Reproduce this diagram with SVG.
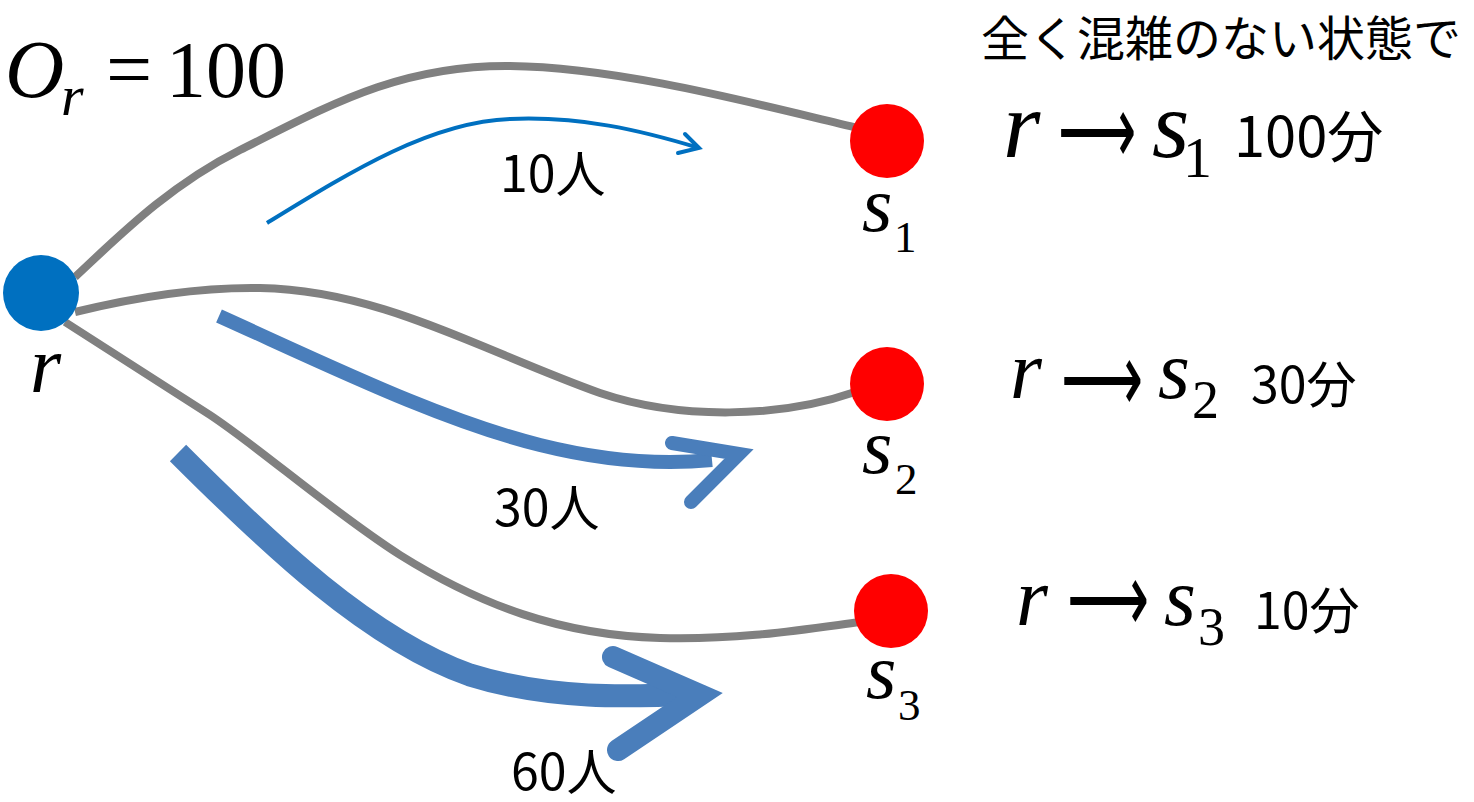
<svg xmlns="http://www.w3.org/2000/svg" width="1474" height="802" viewBox="0 0 1474 802">
  <style>
    .route { fill: none; stroke: #808080; stroke-width: 8; stroke-linecap: butt; }
    .flow { fill: none; stroke: #4A7EBB; stroke-linecap: butt; }
    .head { fill: none; stroke: #4A7EBB; stroke-linecap: round; stroke-linejoin: miter; stroke-miterlimit: 10; }
    .math { font-family: 'Liberation Serif', 'Times New Roman', 'DejaVu Serif', serif; font-style: italic; fill: #000; }
    .num { font-family: 'Liberation Serif', 'Times New Roman', 'DejaVu Serif', serif; fill: #000; }
    .arrow { font-family: 'Liberation Serif', 'Times New Roman', serif; fill: #000; }
    .jp { font-family: 'Noto Sans CJK JP', 'Noto Sans', sans-serif; fill: #000; }
  </style>

  <!-- routes from origin r to each destination -->
  <g id="connectors">
    <path class="route" d="M75,277 C120,235 170,185 240,150 C330,105 400,65 510,66 C620,67 760,105 858,128"/>
    <path class="route" d="M75,312 C140,296 200,287 260,288 C380,290 480,350 600,393 C680,420 780,418 855,392"/>
    <path class="route" d="M65,322 L210,415 C260,448 330,510 400,555 C480,605 560,635 660,638 C740,640 800,630 860,622"/>

    <!-- traffic volumes, stroke width by size of flow -->
    <g id="flow-s1">
      <path d="M267,223 C350,172 430,122 510,119 C580,116 640,130 699,148" fill="none" stroke="#0070C0" stroke-width="4"/>
      <polyline points="685,134 699,148 678,153" fill="none" stroke="#0070C0" stroke-width="4" stroke-linecap="round" stroke-linejoin="miter"/>
    </g>
    <g id="flow-s2">
      <path class="flow" stroke-width="14" d="M219,316 C330,366 440,420 540,445 C600,460 660,465 712,460"/>
      <polyline class="head" stroke-width="14" points="672,443 739,454 691,502"/>
    </g>
    <g id="flow-s3">
      <path class="flow" stroke-width="23" d="M178,453 C270,545 370,640 470,675 C550,700 630,697 695,694"/>
      <polyline class="head" stroke-width="22" points="613,657 700,695 618,750"/>
    </g>
  </g>

  <!-- origin -->
  <g id="node-r">
    <circle cx="41" cy="293" r="38" fill="#0070C0"/>
    <text class="math" x="30" y="392" font-size="80">r</text>
  </g>

  <!-- destinations -->
  <g id="node-s1">
    <circle cx="887" cy="141" r="37" fill="#FF0000"/>
    <text class="math" x="862" y="231" font-size="78">s</text>
    <text class="num" x="894" y="252" font-size="45">1</text>
  </g>
  <g id="node-s2">
    <circle cx="887" cy="384" r="37" fill="#FF0000"/>
    <text class="math" x="862" y="473" font-size="78">s</text>
    <text class="num" x="895" y="494" font-size="45">2</text>
  </g>
  <g id="node-s3">
    <circle cx="891" cy="611" r="37" fill="#FF0000"/>
    <text class="math" x="866" y="698" font-size="78">s</text>
    <text class="num" x="898" y="720" font-size="45">3</text>
  </g>

  <!-- trips generated at r -->
  <g id="demand">
    <text class="math" x="5" y="97" font-size="82">O</text>
    <text class="math" x="61" y="115" font-size="58">r</text>
    <text class="num" x="106" y="97" font-size="82">=</text>
    <text class="num" x="166" y="97" font-size="80">100</text>
  </g>

  <!-- flow volumes -->
  <g id="flow-labels">
    <text class="jp" x="500" y="192" font-size="50">10人</text>
    <text class="jp" x="494" y="526" font-size="50">30人</text>
    <text class="jp" x="511" y="790" font-size="50">60人</text>
  </g>

  <!-- free-flow travel times -->
  <g id="travel-times">
    <text class="jp" x="981" y="56" font-size="48">全く混雑のない状態で</text>

    <text class="math" x="1003" y="157" font-size="96">r</text>
    <text class="arrow" x="1058" y="164" font-size="100" textLength="78" lengthAdjust="spacingAndGlyphs">⟶</text>
    <text class="math" x="1152" y="157" font-size="96">s</text>
    <text class="num" x="1183" y="177" font-size="58">1</text>
    <text class="jp" x="1234" y="157" font-size="56">100分</text>

    <text class="math" x="1010" y="398" font-size="82">r</text>
    <text class="arrow" x="1061" y="412" font-size="100" textLength="82" lengthAdjust="spacingAndGlyphs">⟶</text>
    <text class="math" x="1158" y="398" font-size="82">s</text>
    <text class="num" x="1192" y="418" font-size="54">2</text>
    <text class="jp" x="1251" y="403" font-size="50">30分</text>

    <text class="math" x="1016" y="625" font-size="82">r</text>
    <text class="arrow" x="1067" y="632" font-size="100" textLength="82" lengthAdjust="spacingAndGlyphs">⟶</text>
    <text class="math" x="1164" y="625" font-size="82">s</text>
    <text class="num" x="1198" y="645" font-size="54">3</text>
    <text class="jp" x="1254" y="629" font-size="50">10分</text>
  </g>
</svg>
